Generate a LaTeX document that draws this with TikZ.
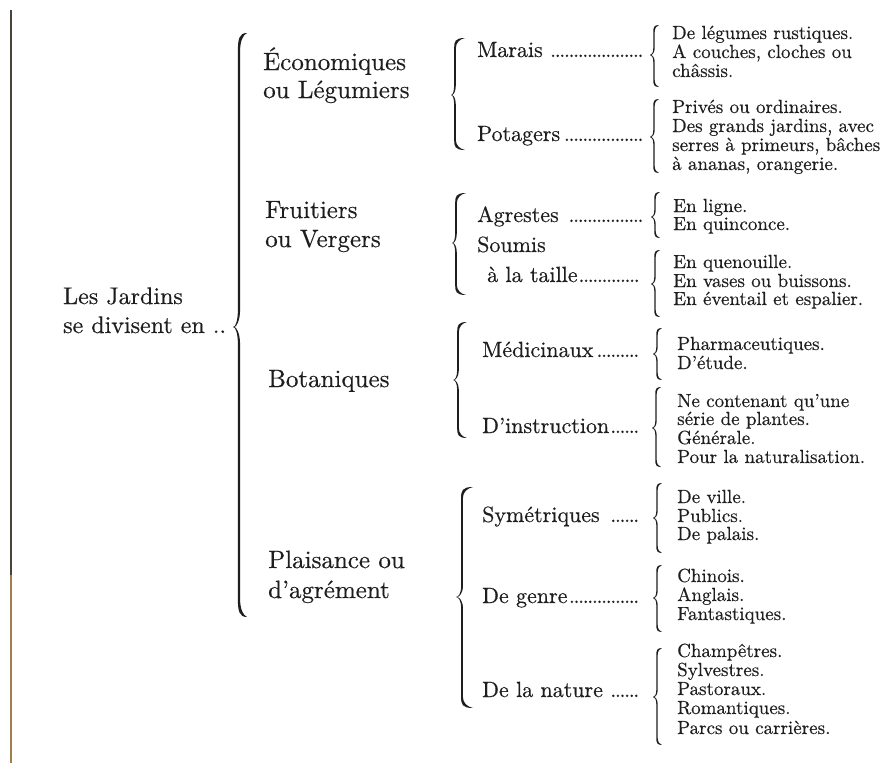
\documentclass[tikz,border=0pt]{standalone}
\usepackage{fontspec}
\setmainfont{lmroman10-regular.otf}[FakeBold=0.4]
\definecolor{ink}{HTML}{1E1E1E}
\definecolor{edgetop}{HTML}{4A4438}
\definecolor{edgebot}{HTML}{A08050}
\tikzset{
  t0/.style={anchor=base west, inner sep=0pt, text=ink, font=\fontsize{24}{28}\selectfont},
  t1/.style={anchor=base west, inner sep=0pt, text=ink, font=\fontsize{25}{28}\selectfont},
  t2/.style={anchor=base west, inner sep=0pt, text=ink, font=\fontsize{22}{26}\selectfont},
  t3/.style={anchor=base west, inner sep=0pt, text=ink, font=\fontsize{19}{19}\selectfont},
}
\newcommand\ldr[2]{\makebox[#1][l]{#2\leaders\hbox to 4.6pt{\hss.\hss}\hfill}}
% tipx, bodyx, endx, top, tipy, bottom, curl, thickness
\newcommand\gbrace[8]{%
  \pgfmathsetmacro\gbL{#2-#8/2}%
  \pgfmathsetmacro\gbR{#2+#8/2}%
  \pgfmathsetmacro\gbTi{#1+0.6*#8}%
  \pgfmathsetmacro\gbTc{#1+0.45*(#2-#1)}%
  \pgfmathsetmacro\gbTd{\gbTi+0.3*(#2-#1)}%
  \pgfmathsetmacro\gbE{#2+0.5*(#3-#2)}%
  \fill[ink] (#3,#4)
    .. controls (#2,#4) and (\gbL,{#4+0.35*#7}) .. (\gbL,{#4+#7})
    -- (\gbL,{#5-#7})
    .. controls (\gbL,{#5-0.35*#7}) and (\gbTc,#5) .. (#1,#5)
    .. controls (\gbTc,#5) and (\gbL,{#5+0.35*#7}) .. (\gbL,{#5+#7})
    -- (\gbL,{#6-#7})
    .. controls (\gbL,{#6-0.35*#7}) and (#2,#6) .. (#3,#6)
    .. controls (\gbE,{#6-0.1*#7}) and (\gbR,{#6-0.45*#7}) .. (\gbR,{#6-#7})
    -- (\gbR,{#5+#7})
    .. controls (\gbR,{#5+0.3*#7}) and (\gbTd,#5) .. (\gbTi,#5)
    .. controls (\gbTd,#5) and (\gbR,{#5-0.3*#7}) .. (\gbR,{#5-#7})
    -- (\gbR,{#4+#7})
    .. controls (\gbR,{#4+0.45*#7}) and (\gbE,{#4+0.1*#7}) .. (#3,#4) -- cycle;
}
\begin{document}
\begin{tikzpicture}[x=1pt,y=-1pt]
\useasboundingbox (0,0) rectangle (884,763);
\fill[white] (0,0) rectangle (884,763);
% scan edge
\draw[line width=1.5pt, edgetop] (11,10) -- (11,575);
\draw[line width=1.5pt, edgebot] (11,575) -- (11,763);

% level 0
\node[t0] (r1) at (63,304) {Les Jardins};
\node[t0] (r2) at (63,333) {se divisent en ..};

% main brace
\gbrace{233}{239}{247}{33}{327}{617}{18}{2.2}

% level 1
\node[t1] (e1) at (263,70) {Économiques};
\node[t1] (e2) at (263,98) {ou Légumiers};
\node[t1] (f1) at (265,218) {Fruitiers};
\node[t1] (f2) at (265,247) {ou Vergers};
\node[t1] (b1) at (268,387) {Botaniques};
\node[t1] (p1) at (268,568) {Plaisance ou};
\node[t1] (p2) at (268,598) {d’agrément};

% level 2 braces
\gbrace{451}{455}{465}{38}{95}{150}{10}{1.7}
\gbrace{452}{456}{466}{193}{243}{295}{10}{1.7}
\gbrace{453}{458}{467}{322}{380}{438}{10}{1.7}
\gbrace{456}{462}{473}{487}{597}{708}{11}{1.8}

% level 2
\node[t2] (ma) at (477,57)  {\ldr{166pt}{Marais\ }};
\node[t2] (po) at (477,141) {\ldr{166pt}{Potagers}};
\node[t2] (ag) at (477,222) {\ldr{166pt}{Agrestes\ }};
\node[t2] (so) at (477,252) {Soumis};
\node[t2] (ta) at (487,282) {\ldr{156pt}{à la taille}};
\node[t2] (me) at (482,357) {\ldr{161pt}{Médicinaux}};
\node[t2] (di) at (482,433) {\ldr{161pt}{D’instruction}};
\node[t2] (sy) at (482,522) {\ldr{161pt}{Symétriques\ }};
\node[t2] (dg) at (482,603) {\ldr{161pt}{De genre}};
\node[t2] (dn) at (482,697) {\ldr{161pt}{De la nature\ }};

% level 3 braces
\gbrace{650}{654}{659}{25}{55}{87}{7}{1.4}
\gbrace{650}{654}{659}{99}{137}{173}{7}{1.4}
\gbrace{651}{655}{660}{192}{217}{238}{7}{1.4}
\gbrace{651}{655}{660}{250}{284}{317}{7}{1.4}
\gbrace{653}{657}{662}{328}{354}{380}{7}{1.4}
\gbrace{652}{656}{661}{387}{428}{467}{7}{1.4}
\gbrace{653}{657}{662}{483}{518}{553}{7}{1.4}
\gbrace{653}{657}{662}{565}{598}{632}{7}{1.4}
\gbrace{653}{657}{662}{648}{697}{745}{7}{1.4}

% level 3
\node[t3] (a1) at (672,39)  {De légumes rustiques.};
\node[t3] (a2) at (672,58)  {A couches, cloches ou};
\node[t3] (a3) at (672,77)  {châssis.};
\node[t3] (b31) at (672,113) {Privés ou ordinaires.};
\node[t3] (b32) at (672,132) {Des grands jardins, avec};
\node[t3] (b33) at (672,151) {serres à primeurs, bâches};
\node[t3] (b34) at (672,170) {à ananas, orangerie.};
\node[t3] (c1) at (673,212) {En ligne.};
\node[t3] (c2) at (673,230) {En quinconce.};
\node[t3] (d1) at (673,268) {En quenouille.};
\node[t3] (d2) at (673,287) {En vases ou buissons.};
\node[t3] (d3) at (673,305) {En éventail et espalier.};
\node[t3] (g1) at (677,350) {Pharmaceutiques.};
\node[t3] (g2) at (677,369) {D’étude.};
\node[t3] (h1) at (677,407) {Ne contenant qu’une};
\node[t3] (h2) at (677,425) {série de plantes.};
\node[t3] (h3) at (677,444) {Générale.};
\node[t3] (h4) at (677,463) {Pour la naturalisation.};
\node[t3] (s1) at (677,503) {De ville.};
\node[t3] (s2) at (677,522) {Publics.};
\node[t3] (s3) at (677,540) {De palais.};
\node[t3] (k1) at (677,582) {Chinois.};
\node[t3] (k2) at (677,601) {Anglais.};
\node[t3] (k3) at (677,620) {Fantastiques.};
\node[t3] (n1) at (677,657) {Champêtres.};
\node[t3] (n2) at (677,676) {Sylvestres.};
\node[t3] (n3) at (677,695) {Pastoraux.};
\node[t3] (n4) at (677,714) {Romantiques.};
\node[t3] (n5) at (677,734) {Parcs ou carrières.};
\end{tikzpicture}
\end{document}
